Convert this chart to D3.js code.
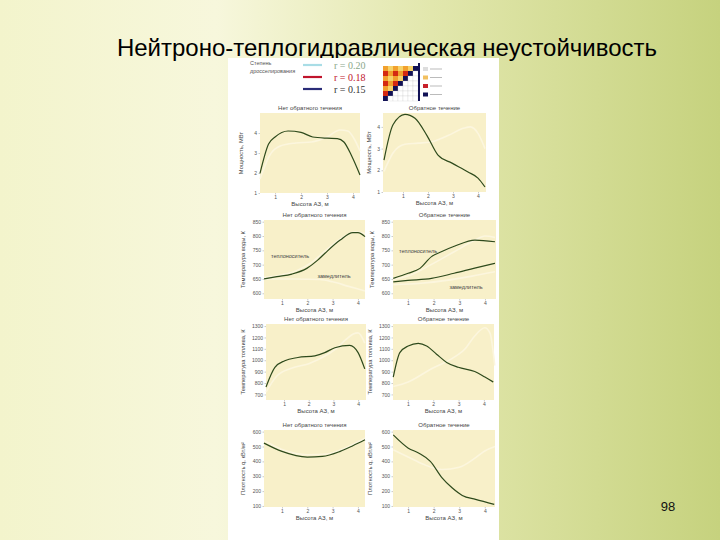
<!DOCTYPE html>
<html><head><meta charset="utf-8">
<script src="https://cdn.jsdelivr.net/npm/d3@7"></script>
<style>html,body{margin:0;padding:0;overflow:hidden}svg{display:block}</style>
</head><body>
<script>
// ---------- DATA ----------
const slideTitle = "Нейтроно-теплогидравлическая неустойчивость";
const pageNumber = "98";
const xLabel = "Высота АЗ, м";
const titleNo = "Нет обратного течения";
const titleRev = "Обратное течение";
const yLabels = ["Мощность, МВт", "Температура воды, К", "Температура топлива, К", "Плотность q, кВт/м²"];
const xTicks = [1, 2, 3, 4];
const powerTicks = [1, 2, 3, 4];
const waterTicks = [600, 650, 700, 750, 800, 850];
const fuelTicks = [700, 800, 900, 1000, 1100, 1200, 1300];
const fluxTicks = [100, 200, 300, 400, 500, 600];
const legendTitle = ["Степень", "дросселирования"];
const legendLabels = ["r = 0.20", "r = 0.18", "r = 0.15"];
const coolantLabel = "теплоноситель";
const moderatorLabel = "замедлитель";

// Power, no reverse flow
const p1DarkX = [0.42, 0.75, 1.0, 1.5, 2.0, 2.45, 3.0, 3.4, 3.65, 3.95, 4.27];
const p1DarkY = [1.98, 3.45, 3.8, 4.1, 4.03, 3.8, 3.74, 3.72, 3.55, 2.85, 1.9];
const p1FaintX = [0.42, 0.8, 1.2, 1.8, 2.4, 3.0, 3.5, 3.8, 4.05, 4.27];
const p1FaintY = [1.7, 2.9, 3.35, 3.5, 3.55, 3.8, 4.15, 4.1, 3.7, 3.1];
// Power, reverse flow
const p2DarkX = [0.24, 0.6, 1.08, 1.48, 1.96, 2.4, 2.96, 3.6, 4.0, 4.28];
const p2DarkY = [2.47, 4.1, 4.58, 4.4, 3.6, 2.7, 2.33, 1.92, 1.64, 1.23];
const p2FaintX = [0.24, 0.6, 1.08, 1.6, 2.1, 2.8, 3.45, 3.7, 4.0, 4.28];
const p2FaintY = [1.95, 2.8, 3.2, 3.25, 3.3, 3.6, 3.95, 4.0, 3.7, 3.0];
// Water temperature, no reverse flow
const p3DarkX = [0.29, 0.8, 1.39, 1.98, 2.4, 2.7, 3.3, 3.8, 4.0, 4.28];
const p3DarkY = [650, 658, 667, 687, 715, 740, 786, 812, 812, 798];
const p3FaintX = [0.29, 1.0, 1.6, 2.2, 2.8, 3.4, 3.9, 4.28];
const p3FaintY = [655, 665, 680, 710, 755, 795, 815, 808];
const p3ModX = [0.29, 1.5, 2.5, 3.0, 3.6, 4.28];
const p3ModY = [650, 650, 648, 640, 625, 608];
// Water temperature, reverse flow
const p4DarkX = [0.43, 1.01, 1.47, 1.92, 2.3, 2.83, 3.61, 4.39];
const p4DarkY = [652, 670, 687, 728, 745, 765, 786, 780];
const p4ModDarkX = [0.43, 1.0, 1.92, 2.8, 3.6, 4.39];
const p4ModDarkY = [640, 645, 652, 670, 688, 705];
const p4FaintX = [0.43, 1.0, 1.9, 2.8, 3.6, 4.0, 4.39];
const p4FaintY = [648, 660, 700, 745, 785, 800, 795];
const p4ModFaintX = [0.43, 1.5, 2.5, 3.5, 4.39];
const p4ModFaintY = [630, 635, 645, 660, 675];
// Fuel temperature, no reverse flow
const p5DarkX = [0.27, 0.63, 1.03, 1.56, 2.25, 2.65, 3.06, 3.66, 4.0, 4.27];
const p5DarkY = [765, 938, 996, 1024, 1039, 1067, 1110, 1131, 1067, 924];
const p5FaintX = [0.27, 0.7, 1.3, 2.0, 2.6, 3.1, 3.5, 3.8, 4.0, 4.27];
const p5FaintY = [720, 860, 930, 970, 1030, 1100, 1180, 1230, 1240, 1150];
// Fuel temperature, reverse flow
const p6DarkX = [0.42, 0.68, 1.01, 1.41, 1.74, 2.13, 2.53, 2.99, 3.64, 4.04, 4.37];
const p6DarkY = [852, 1067, 1125, 1148, 1125, 1053, 981, 938, 901, 852, 809];
const p6FaintX = [0.42, 1.01, 1.93, 2.72, 3.25, 3.64, 4.04, 4.24, 4.43];
const p6FaintY = [769, 809, 925, 1012, 1098, 1213, 1285, 1240, 954];
// Heat flux, no reverse flow
const p7DarkX = [0.29, 1.0, 2.0, 2.6, 3.3, 3.8, 4.28];
const p7DarkY = [523, 467, 429, 433, 467, 505, 545];
const p7FaintX = [0.29, 1.0, 2.0, 2.8, 3.5, 4.28];
const p7FaintY = [540, 480, 445, 450, 490, 555];
// Heat flux, reverse flow
const p8DarkX = [0.42, 1.01, 1.41, 1.87, 2.33, 2.72, 3.12, 3.64, 4.37];
const p8DarkY = [578, 489, 456, 400, 289, 222, 171, 144, 111];
const p8FaintX = [0.42, 1.0, 1.6, 2.33, 3.0, 3.6, 4.0, 4.4];
const p8FaintY = [478, 430, 380, 345, 360, 420, 470, 500];

// ---------- LAYOUT ----------
const W = 720, H = 540;
const FONT = "'Liberation Sans', Arial, sans-serif";
const DARK = "#2e4a1c", FAINT = "#fcf6de", PLOTBG = "#f8f0c9";

const panels = [
  {x0:260,x1:360,y0:113,y1:193,xd:[0.42,4.27],yd:[1,5],yt:powerTicks,title:titleNo,yl:yLabels[0],ylx:243,
   s:[[p1FaintX,p1FaintY,0],[p1DarkX,p1DarkY,1]]},
  {x0:383,x1:486,y0:113,y1:192,xd:[0.2,4.32],yd:[1,4.64],yt:powerTicks,title:titleRev,yl:yLabels[0],ylx:371,
   s:[[p2FaintX,p2FaintY,0],[p2DarkX,p2DarkY,1]]},
  {x0:264,x1:365,y0:220,y1:299,xd:[0.29,4.28],yd:[580,856],yt:waterTicks,title:titleNo,yl:yLabels[1],ylx:245,
   s:[[p3ModX,p3ModY,0],[p3FaintX,p3FaintY,0],[p3DarkX,p3DarkY,1]],
   notes:[[coolantLabel,290,258],[moderatorLabel,334,278]]},
  {x0:393,x1:496,y0:220,y1:299,xd:[0.42,4.43],yd:[580,856],yt:waterTicks,title:titleRev,yl:yLabels[1],ylx:374,
   s:[[p4FaintX,p4FaintY,0],[p4ModFaintX,p4ModFaintY,0],[p4DarkX,p4DarkY,1],[p4ModDarkX,p4ModDarkY,1]],
   notes:[[coolantLabel,418,253],[moderatorLabel,466,289]]},
  {x0:266,x1:366,y0:324,y1:400,xd:[0.27,4.32],yd:[651,1318],yt:fuelTicks,title:titleNo,yl:yLabels[2],ylx:245,
   s:[[p5FaintX,p5FaintY,0],[p5DarkX,p5DarkY,1]]},
  {x0:393,x1:494,y0:324,y1:400,xd:[0.41,4.4],yd:[651,1318],yt:fuelTicks,title:titleRev,yl:yLabels[2],ylx:372,
   s:[[p6FaintX,p6FaintY,0],[p6DarkX,p6DarkY,1]]},
  {x0:264,x1:365,y0:430,y1:507,xd:[0.29,4.28],yd:[93,611],yt:fluxTicks,title:titleNo,yl:yLabels[3],ylx:245,
   s:[[p7FaintX,p7FaintY,0],[p7DarkX,p7DarkY,1]]},
  {x0:393,x1:495,y0:430,y1:507,xd:[0.41,4.4],yd:[93,611],yt:fluxTicks,title:titleRev,yl:yLabels[3],ylx:372,
   s:[[p8FaintX,p8FaintY,0],[p8DarkX,p8DarkY,1]]}
];

const svg = d3.select("body").append("svg").attr("width", W).attr("height", H);
const defs = svg.append("defs");
const grad = defs.append("linearGradient").attr("id","bg").attr("x1","0").attr("x2","1").attr("y1","0").attr("y2","0");
grad.append("stop").attr("offset","0").attr("stop-color","#f3f4cc");
grad.append("stop").attr("offset","0.3").attr("stop-color","#f7f7dc");
grad.append("stop").attr("offset","0.6").attr("stop-color","#e2e7ad");
grad.append("stop").attr("offset","1").attr("stop-color","#c6d27e");
svg.append("rect").attr("width",W).attr("height",H).attr("fill","url(#bg)");

// title
svg.append("text").attr("x", 387).attr("y", 56).attr("text-anchor","middle")
  .attr("font-family", FONT).attr("font-size", 24).attr("fill", "#000").text(slideTitle);
svg.append("text").attr("x", 668).attr("y", 511).attr("text-anchor","middle")
  .attr("font-family", FONT).attr("font-size", 13).attr("fill", "#111").text(pageNumber);

// white figure panel
svg.append("rect").attr("x",228).attr("y",58).attr("width",271).attr("height",H-58).attr("fill","#fff");

// legend
const lg = svg.append("g");
legendTitle.forEach((t,i)=> lg.append("text").attr("x",250).attr("y",65+i*8)
  .attr("font-family",FONT).attr("font-size",5.5).attr("fill","#555").text(t));
const legendColors = ["#a9dde6","#c0142c","#2a2c78"];
const legendTextColors = ["#8aa88a","#c0142c","#333"];
legendLabels.forEach((t,i)=>{
  const y = 65 + i*12;
  lg.append("line").attr("x1",303).attr("x2",322).attr("y1",y).attr("y2",y)
    .attr("stroke",legendColors[i]).attr("stroke-width",2.2);
  lg.append("text").attr("x",334).attr("y",y+3.5).attr("font-family","'Liberation Serif', serif")
    .attr("font-size",10).attr("fill",legendTextColors[i]).text(t);
});
// core map icon
const cell = 5, gx = 383, gy = 66, n = 7;
const cellG = svg.append("g");
d3.range(n).forEach(r => d3.range(n).forEach(c => {
  let fill = "#fff", stroke = "#ccc";
  if (c + r < n - 1) { fill = (c + r) % 2 === 0 ? "#f2a12e" : ((r % 2) ? "#d42a12" : "#f6d36a"); stroke = "none"; }
  else if (c + r === n - 1) { fill = "#121256"; stroke = "none"; }
  cellG.append("rect").attr("x", gx + c*cell).attr("y", gy + r*cell).attr("width", cell).attr("height", cell)
    .attr("fill", fill).attr("stroke", stroke).attr("stroke-width", 0.3);
}));
cellG.append("rect").attr("x",gx+n*cell).attr("y",gy-3).attr("width",2).attr("height",n*cell+3).attr("fill","#121256");
const keyColors = ["#dddddd","#f2c060","#c8202a","#121256"];
keyColors.forEach((k,i)=>{
  const y = 67 + i*8.5;
  cellG.append("rect").attr("x",423).attr("y",y).attr("width",5).attr("height",4).attr("fill",k);
  cellG.append("line").attr("x1",430).attr("x2",442).attr("y1",y+2).attr("y2",y+2).attr("stroke","#bbb").attr("stroke-width",1);
});

// subplots
panels.forEach((p, idx) => {
  const g = svg.append("g");
  const x = d3.scaleLinear().domain(p.xd).range([p.x0, p.x1]);
  const y = d3.scaleLinear().domain(p.yd).range([p.y1, p.y0]);
  g.append("rect").attr("x",p.x0).attr("y",p.y0).attr("width",p.x1-p.x0).attr("height",p.y1-p.y0).attr("fill",PLOTBG);
  const ax = g.append("g").attr("transform",`translate(0,${p.y1})`)
    .call(d3.axisBottom(x).tickValues(xTicks).tickSize(1.5).tickPadding(1).tickFormat(d3.format("d")));
  const ay = g.append("g").attr("transform",`translate(${p.x0},0)`)
    .call(d3.axisLeft(y).tickValues(p.yt).tickSize(1.5).tickPadding(1.5).tickFormat(d3.format("d")));
  [ax, ay].forEach(a => {
    a.select(".domain").remove();
    a.selectAll("line").attr("stroke","#999").attr("stroke-width",0.5);
    a.selectAll("text").attr("font-family",FONT).attr("font-size",5).attr("fill","#555");
  });
  const line = d3.line().x(d=>x(d[0])).y(d=>y(d[1])).curve(d3.curveMonotoneX);
  p.s.forEach(([xs, ys, dark]) => {
    const pts = xs.map((v,i)=>[v, ys[i]]);
    g.append("path").attr("d", line(pts)).attr("fill","none")
      .attr("stroke", dark ? DARK : FAINT).attr("stroke-width", dark ? 1.2 : 1.6);
  });
  const cx = (p.x0 + p.x1)/2;
  g.append("text").attr("x",cx).attr("y",p.y0-3.5).attr("text-anchor","middle")
    .attr("font-family",FONT).attr("font-size",6).attr("fill","#444").text(p.title);
  g.append("text").attr("x",cx).attr("y",p.y1+13).attr("text-anchor","middle")
    .attr("font-family",FONT).attr("font-size",6).attr("fill","#444").text(xLabel);
  g.append("text").attr("transform",`translate(${p.ylx},${(p.y0+p.y1)/2}) rotate(-90)`).attr("text-anchor","middle")
    .attr("font-family",FONT).attr("font-size",5.8).attr("fill","#444").text(p.yl);
  (p.notes||[]).forEach(([t,nx,ny]) => g.append("text").attr("x",nx).attr("y",ny).attr("text-anchor","middle")
    .attr("font-family",FONT).attr("font-size",5.5).attr("fill","#444").text(t));
});
</script>
</body></html>
